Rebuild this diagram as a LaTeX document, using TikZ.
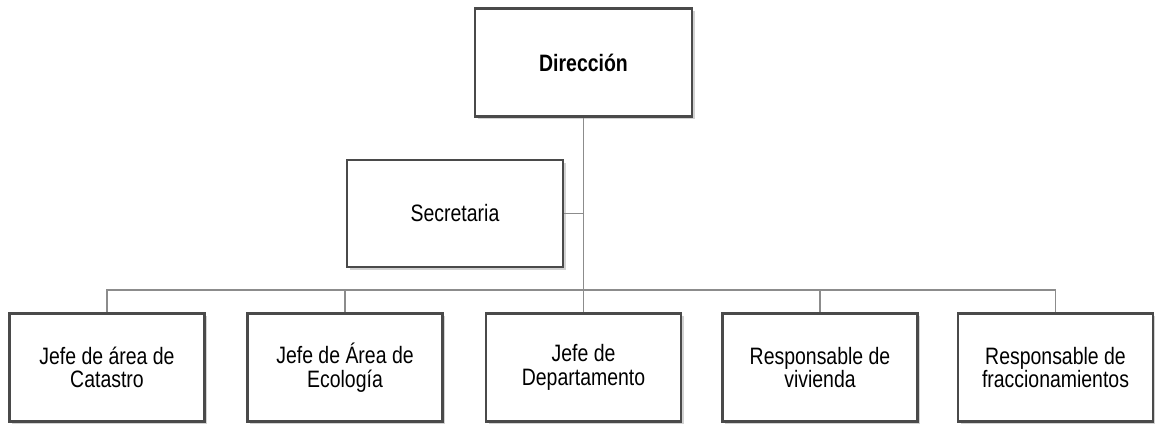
\documentclass[tikz,border=0pt]{standalone}
\usepackage{fontspec}
\setmainfont{Liberation Sans}[FakeStretch=0.82]
\usepackage{xcolor}
\usepackage{tikz}
\usetikzlibrary{shadows}
\usetikzlibrary{calc}

\definecolor{boxline}{HTML}{4A4A4A}
\definecolor{connline}{HTML}{8C8C8C}

\tikzset{
    puesto/.style={draw=boxline,line width=1.6pt,fill=white,align=center,
        font=\fontsize{13.5}{13.3}\selectfont,minimum width=3.9cm,minimum height=2.16cm,
        drop shadow={shadow xshift=1.5pt,shadow yshift=-1.5pt,fill=black!35}},
    conn/.style={draw=connline,line width=0.6pt}
}

\begin{document}
\begin{tikzpicture}[x=0.02cm,y=0.02cm]
        \useasboundingbox (0,0) rectangle (1155,-424);

        \node[puesto,minimum width=4.34cm,font=\fontsize{13.5}{13.3}\selectfont\bfseries] (dir) at (583.5,-62.5) {Dirección};
        \node[puesto,minimum width=4.32cm,minimum height=2.14cm] (sec) at (455,-213.5) {Secretaria};

        \node[puesto] (catastro) at (107,-367.5) {Jefe de área de\\Catastro};
        \node[puesto] (ecologia) at (345,-367.5) {Jefe de Área de\\Ecología};
        \node[puesto] (depto) at (583.5,-367.5) {Jefe de\\Departamento};
        \node[puesto] (vivienda) at (820,-367.5) {Responsable de\\vivienda};
        \node[puesto] (fracc) at (1055.5,-367.5) {Responsable de\\fraccionamientos};

        \coordinate (trunk) at (583.5,-290);

        \draw[conn] (dir.south) -- (trunk);
        \draw[conn] (sec.east) -- (sec.east -| trunk);
        \draw[conn] (trunk) -| (catastro.north);
        \draw[conn] (trunk) -| (ecologia.north);
        \draw[conn] (trunk) -- (depto.north);
        \draw[conn] (trunk) -| (vivienda.north);
        \draw[conn] (trunk) -| (fracc.north);
    \end{tikzpicture}
\end{document}
